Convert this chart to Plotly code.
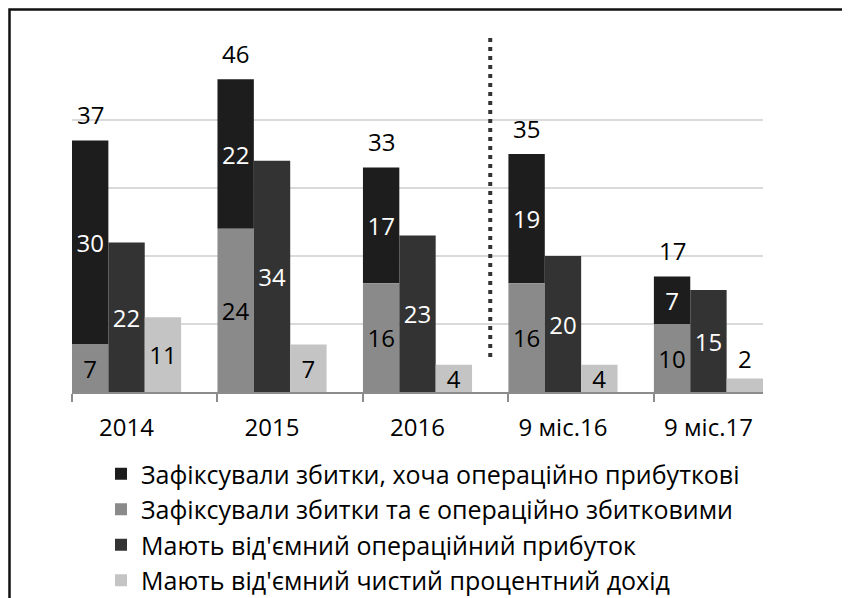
import plotly.graph_objects as go

categories = ["2014", "2015", "2016", "9 міс.16", "9 міс.17"]
loss_op_profit = [30, 22, 17, 19, 7]      # Зафіксували збитки, хоча операційно прибуткові
loss_op_loss = [7, 24, 16, 16, 10]        # Зафіксували збитки та є операційно збитковими
neg_op_profit = [22, 34, 23, 20, 15]      # Мають від'ємний операційний прибуток
neg_nii = [11, 7, 4, 4, 2]                # Мають від'ємний чистий процентний дохід
totals = [37, 46, 33, 35, 17]

names = [
    "Зафіксували збитки, хоча операційно прибуткові",
    "Зафіксували збитки та є операційно збитковими",
    "Мають від'ємний операційний прибуток",
    "Мають від'ємний чистий процентний дохід",
]

FONT = "'Open Sans', sans-serif"
idx = list(range(len(categories)))
W = 0.25
LBL = 24

# page body has an 8px default margin: figure is 842x590 placed at (8, 8)
FW, FH = 842, 590
ML, MT, PW, PH = 64, 44, 691, 340

fig = go.Figure()
common = dict(x=idx, width=W, textangle=0, constraintext="none",
              insidetextanchor="middle", texttemplate="%{y}")

fig.add_trace(go.Bar(name=names[0], y=loss_op_profit, base=loss_op_loss, offset=-0.375,
                     marker=dict(color="#1d1d1d", line=dict(width=0)),
                     textposition="inside",
                     textfont=dict(color="white", size=LBL, family=FONT), **common))
fig.add_trace(go.Bar(name=names[1], y=loss_op_loss, offset=-0.375,
                     marker=dict(color="#8a8a8a", line=dict(width=0)),
                     textposition="inside",
                     textfont=dict(color="black", size=LBL, family=FONT), **common))
fig.add_trace(go.Bar(name=names[2], y=neg_op_profit, offset=-0.125,
                     marker=dict(color="#333333", line=dict(width=0)),
                     textposition="inside",
                     textfont=dict(color="white", size=LBL, family=FONT), **common))
fig.add_trace(go.Bar(name=names[3], y=neg_nii, offset=0.125,
                     marker=dict(color="#c4c4c4", line=dict(width=0)),
                     textposition=["inside"] * 4 + ["outside"],
                     textfont=dict(color="black", size=LBL, family=FONT),
                     outsidetextfont=dict(color="black", size=LBL, family=FONT), **common))

for i, t in zip(idx, totals):
    fig.add_annotation(x=i - 0.25, y=t, text=str(t), showarrow=False, yshift=26,
                       font=dict(size=LBL, color="black", family=FONT))

# dotted separator between annual and 9-month data
fig.add_shape(type="line", xref="x", yref="paper", x0=2.5, x1=2.5, y0=0.103, y1=1.044,
              line=dict(color="#333333", width=4, dash="4px,5px"))
# outer frame
fig.add_shape(type="rect", xref="paper", yref="paper",
              x0=(1.5 - ML) / PW, x1=(840 - ML) / PW,
              y0=-0.65, y1=(MT + PH - 1.5) / PH,
              line=dict(color="#111111", width=2.5))

fig.update_layout(
    width=FW, height=FH,
    margin=dict(l=ML, r=FW - ML - PW, t=MT, b=FH - MT - PH, autoexpand=False),
    paper_bgcolor="white", plot_bgcolor="white",
    barmode="overlay",
    font=dict(family=FONT, color="black"),
    showlegend=True,
    legend=dict(xref="container", yref="container", x=93 / FW, y=1 - 443 / FH,
                xanchor="left", yanchor="top", font=dict(size=25, family=FONT, color="black"),
                traceorder="normal", tracegroupgap=0, bgcolor="rgba(0,0,0,0)"),
    xaxis=dict(range=[-0.375, 4.375], tickvals=idx, ticktext=categories, ticks="",
               showline=True, linecolor="#8c8c8c", linewidth=1.5, showgrid=False, zeroline=False,
               tickfont=dict(size=24, family=FONT, color="black"), ticklabelstandoff=13,
               minor=dict(ticks="outside", tick0=-0.375, dtick=1, ticklen=8,
                          tickcolor="#8c8c8c", tickwidth=1.5, showgrid=False)),
    yaxis=dict(range=[0, 50], dtick=10, showgrid=True, gridcolor="#dadada", gridwidth=1.5,
               showticklabels=False, zeroline=False, fixedrange=True),
)

fig.write_html("out.html")
